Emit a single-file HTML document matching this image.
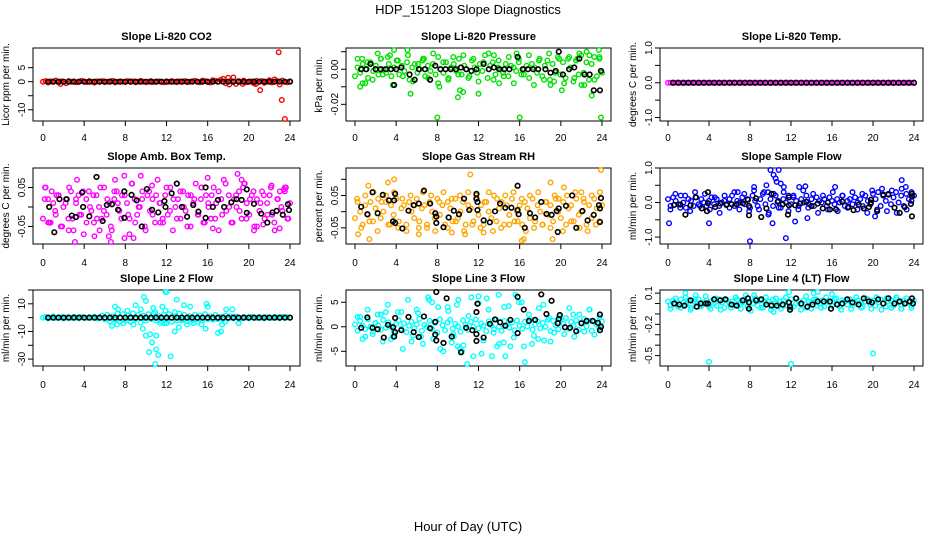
<!DOCTYPE html>
<html><head><meta charset="utf-8">
<style>
html,body{margin:0;padding:0;background:#fff;}
svg{display:block;font-family:"Liberation Sans",sans-serif;}
</style></head>
<body>
<svg id="chart" width="936" height="540" viewBox="0 0 936 540">
<text x="468" y="14" text-anchor="middle" font-size="13">HDP_151203  Slope Diagnostics</text>
<text x="468" y="531" text-anchor="middle" font-size="13">Hour of Day (UTC)</text>
</svg>
<script>
// ---------- data ----------
const xTicks = [0,4,8,12,16,20,24];
const panelTitles = ["Slope Li-820 CO2","Slope Li-820 Pressure","Slope Li-820 Temp.","Slope Amb. Box Temp.","Slope Gas Stream RH","Slope Sample Flow","Slope Line 2 Flow","Slope Line 3 Flow","Slope Line 4 (LT) Flow"];
const yLabels = ["Licor ppm per min.","kPa per min.","degrees C per min.","degrees C per min.","percent per min.","ml/min per min.","ml/min per min.","ml/min per min.","ml/min per min."];
const yDomains = [[-14,12],[-0.0295,0.0121],[-1.1,1.0],[-0.095,0.1],[-0.1,0.135],[-1.2,1.0],[-35,20],[-8,7.5],[-0.6,0.13]];
const yTickVals = [[-10,-5,0,5],[-0.02,-0.01,0,0.01],[-1,-0.5,0,0.5,1],[-0.05,0,0.05],[-0.05,0,0.05,0.1],[-1,-0.5,0,0.5,1],[-30,-20,-10,0,10,20],[-5,0,5],[-0.5,-0.4,-0.3,-0.2,-0.1,0,0.1]];
const yTickLabels = [["-10","","0","5"],["-0.02","","0.00",""],["-1.0","","0.0","","1.0"],["-0.05","","0.05"],["-0.05","","0.05",""],["-1.0","","0.0","","1.0"],["-30","","-10","","10",""],["-5","0","5"],["-0.5","","","-0.2","","","0.1"]];
const colors = ["#ff0000","#00e000","#ff00ff","#ff00ff","#ffa500","#0000ff","#00ffff","#00ffff","#00ffff"];

// colored series on a regular grid from 0 to 24 h
const co2A = [0,0.2,-0.3,0.1,0,0.4,-0.2,0.1,0,-0.5,0.2,0,0.1,-0.2,0,0.3,0,-0.1,0.2,0,-0.3,0.1,0,0.2,-0.1,0,0.1,0.3,-0.2,0,0.1,0,-0.1,0.2,0,0.1,-0.2,0,0.3,0,-0.1,0,0.2,-0.1,0,0.1,0,-0.2,0.1,0,0.2,0,-0.1,0.1,0,0.2,-0.1,0,0.1,0.3,0,-0.2,0.4,0.2,0,-0.3,0.5,0.3,0,0.6,1.0,-0.5,1.4,0.3,0,-0.8,0.2,0,0.4,-0.2,0,0.1,-0.6,0.3,0,0.2,-0.4,0,0.5,-0.3,0.8,0.2,-1.0,0.4,0,-0.2,0.1];
const co2B = [];
const presA = [-0.004,0.001,-0.002,0.003,0.0,-0.005,0.004,-0.001,0.002,-0.003,0.006,0.0,-0.002,0.003,-0.004,0.001,0.005,-0.003,0.002,-0.001,0.004,-0.006,0.001,0.003,-0.002,0.0,0.005,-0.004,0.002,-0.001,0.003,-0.003,0.007,0.0,-0.002,0.004,-0.005,0.001,0.003,-0.001,0.006,-0.003,0.002,0.0,-0.004,0.005,0.001,-0.002,0.003,-0.001,0.008,-0.005,0.002,0.004,-0.003,0.001,0.0,-0.002,0.003,-0.004,0.002,0.001,-0.001,0.004,-0.003,0.0,0.002,-0.005,0.003,0.001,-0.002,0.006,-0.004,0.002,0.005,-0.006,0.003,-0.002,0.007,-0.003,0.004,-0.005,0.006,0.001,-0.007,0.005,-0.003,0.008,-0.002,0.004,-0.006,0.003,0.007,-0.004,0.006,-0.002];
const presB = [0.006,-0.008,0.004,-0.006,0.009,-0.003,0.007,-0.009,0.005,-0.004,0.008,-0.007,0.003,0.006,-0.005,0.009,-0.008,0.004,-0.006,0.007,-0.003,0.008,-0.005,0.006,-0.007,0.004,0.009,-0.006,0.005,-0.004,0.007,-0.008,0.006,-0.003,0.008,-0.009,0.005,-0.006,0.009,-0.007,0.006,-0.008,0.007,-0.005,0.009,-0.009,0.008,-0.006,0.007];
const tempA = new Array(97).fill(0);
const tempB = [];
const ambA = [-0.03,0.05,0.02,-0.04,0.01,-0.02,0.03,-0.05,0.0,0.02,-0.03,0.04,-0.06,0.01,0.03,-0.02,-0.07,0.02,0.04,-0.01,-0.04,0.03,0.0,-0.03,0.05,-0.02,0.01,-0.06,0.02,0.04,-0.01,0.03,-0.08,0.01,-0.03,0.06,0.02,-0.02,0.0,0.04,-0.05,0.03,-0.01,0.02,-0.04,0.07,0.01,-0.03,0.03,-0.02,0.05,-0.06,0.0,0.02,-0.03,0.04,-0.01,0.03,-0.05,0.01,0.06,-0.02,0.02,-0.04,0.03,0.0,-0.03,0.05,0.01,-0.06,0.02,0.07,-0.01,0.03,-0.04,0.02,0.0,0.04,-0.03,0.06,0.01,-0.02,0.03,-0.05,0.02,-0.01,0.04,-0.03,0.01,0.03,-0.02,-0.06,0.02,0.04,-0.01,0.05,-0.03,0.01];
const ambB = [0.02,-0.04,0.04,-0.01,0.03,-0.05,0.01,0.05,-0.03,0.02,-0.02,0.04,-0.04,0.0,0.03,-0.03,0.05,-0.01,0.02,-0.05,0.04,0.01,-0.03,0.03,-0.02,0.06,-0.04,0.0,0.02,-0.06,0.04,-0.02,0.03,0.01,-0.04,0.05,-0.01,0.02,-0.03,0.04,0.0,-0.05,0.03,0.02,-0.02,0.05,-0.04,0.01,0.03,-0.03,0.04,-0.02,0.06,0.0,-0.04,0.03,-0.01,0.05,-0.03,0.02,0.04,-0.05,0.01,0.03,-0.02,0.05,-0.04,0.02,0.0,0.04,-0.03];
const rhA = [-0.02,0.03,0.0,-0.04,0.02,-0.01,0.03,-0.03,0.01,0.04,-0.02,0.0,0.03,-0.04,0.02,-0.01,0.04,-0.03,0.01,0.02,-0.04,0.03,0.0,-0.02,0.04,-0.03,0.01,0.02,-0.05,0.03,0.0,-0.02,0.04,-0.01,0.02,-0.04,0.03,0.01,-0.03,0.04,-0.02,0.0,0.03,-0.04,0.02,0.01,-0.03,0.04,-0.01,0.02,-0.04,0.03,0.0,-0.02,0.05,-0.03,0.01,0.03,-0.04,0.02,-0.01,0.04,-0.03,0.0,0.02,-0.04,0.03,0.01,-0.02,0.04,-0.03,0.02,0.0,-0.04,0.03,-0.01,0.02,-0.03,0.04,0.0,-0.02,0.03,-0.04,0.01,0.02,-0.03,0.04,-0.01,0.0,0.03,-0.04,0.02,-0.02,0.04,0.01,-0.03,0.02];
const rhB = [0.04,-0.05,0.05,-0.03,0.06,-0.06,0.03,0.05,-0.04,0.06,-0.05,0.04,-0.06,0.05,0.02,-0.05,0.06,-0.04,0.05,-0.06,0.03,0.06,-0.05,0.04,-0.03,0.05,-0.06,0.06,-0.04,0.05,-0.05,0.03,0.06,-0.06,0.04,-0.05,0.05,-0.04,0.06,-0.03,0.04,-0.06,0.05,-0.05,0.06,-0.04,0.03,-0.05,0.05,0.04,-0.06,0.05,-0.03,0.06,-0.05,0.04,-0.06,0.05,-0.04,0.06];
const flowA = [0.1,-0.1,0.15,0.05,-0.05,0.2,0.0,-0.15,0.1,0.05,-0.1,0.15,-0.05,0.1,0.0,-0.1,0.05,0.15,-0.05,0.1,-0.1,0.0,0.05,-0.05,0.1,0.2,-0.1,0.05,0.0,0.15,-0.05,0.1,-0.15,0.2,0.05,-0.1,0.1,0.25,-0.05,0.3,0.1,-0.1,0.2,0.05,-0.15,0.1,0.0,0.2,-0.05,0.15,0.05,-0.1,0.1,0.0,0.2,-0.05,0.1,-0.1,0.15,0.05,0.0,0.1,-0.1,0.15,0.05,-0.05,0.1,0.0,0.2,-0.1,0.05,0.1,-0.05,0.15,0.0,0.1,-0.1,0.2,0.05,-0.05,0.25,0.1,0.3,-0.1,0.2,0.05,0.25,-0.05,0.15,0.3,0.0,0.2,-0.1,0.25,0.1,0.05,0.2];
const flowB = [-0.2,0.25,-0.15,0.2,-0.25,0.3,-0.1,0.25,-0.2,0.15,-0.3,0.2,-0.15,0.3,-0.2,0.25,-0.25,0.35,-0.2,0.3,-0.3,0.25,-0.15,0.3,-0.25,0.2,-0.2,0.35,-0.15,0.25,-0.3,0.2,-0.2,0.3,-0.25,0.2,-0.15,0.3,-0.2,0.25,-0.3,0.35,-0.2,0.4,-0.25,0.35,-0.3,0.4,-0.2,0.3];
const l2A = [0,0.5,-0.5,0,0.8,-0.3,0,0.4,-0.6,0,0.3,-0.2,0.6,0,-0.4,0.5,0,-0.3,0.2,0,0.6,-0.5,0,1.5,-1.2,2,-2.5,1,-1.5,3,-3,2.5,-2,1.5,-2.5,3,-1,2,-3.5,1.5,-2,2.5,-1,3,-2,1,-2.5,2,-1.5,2.5,-3,1,-2,3,-1.5,2,-2.5,1,-2,2,-1,1.5,-2,2.5,-1,1,-1.5,2,-1,0.5,-1,1.5,-0.5,1,-0.5,0.8,0,-0.6,0.5,0,-0.4,0.6,0,-0.3,0.5,0,-0.5,0.4,0,-0.3,0.6,0,-0.4,0.5,0,0.3,0];
const l2B = [];
const l3A = [0.5,-0.8,1.2,0.2,-0.5,1.5,0.0,-1.0,0.8,0.3,-0.6,1.4,-0.2,0.9,0.1,-0.9,0.6,1.3,-0.4,0.7,-1.1,0.2,1.0,-0.3,0.5,1.6,-0.8,0.4,0.0,1.2,-0.5,0.8,-1.2,1.5,0.3,-0.7,0.9,1.4,-0.4,0.6,0.1,-1.0,1.3,0.4,-0.6,1.0,0.0,1.5,-0.3,0.7,0.2,-0.9,1.1,0.3,-0.5,1.4,0.0,-0.8,1.2,0.4,-0.2,0.9,-0.7,1.3,0.2,-0.4,1.0,0.1,1.6,-0.6,0.5,1.1,-0.3,0.8,0.0,1.4,-0.9,1.2,0.3,-0.5,1.5,0.6,1.8,-0.4,1.0,0.2,1.3,-0.6,0.9,1.6,0.1,1.2,-0.8,1.0,0.4,-0.3,1.1];
const l3B = [2.0,-2.5,3.5,-1.5,2.5,-3.0,4.5,-2.0,3.0,-4.5,5.5,-1.8,2.8,-3.5,6.0,-2.5,4.0,-5.0,3.2,-1.5,5.5,-3.8,2.2,-6.0,4.8,-2.8,3.5,-1.2,6.5,-3.2,4.2,-2.2,5.0,-4.0,2.5,-1.8,3.8,-2.8,1.8,-1.2,2.2,-1.5,3.8,-2.0,2.5,-1.0,3.5,-1.6,2.0];
const l4A = [0.02,-0.02,0.03,0.0,-0.03,0.04,0.01,-0.01,0.03,-0.04,0.02,0.0,0.04,-0.02,0.01,0.03,-0.03,0.02,0.0,-0.02,0.04,0.01,-0.04,0.03,0.0,0.02,-0.02,0.04,-0.01,0.01,0.03,-0.03,0.02,0.0,0.04,-0.02,0.03,-0.04,0.01,0.02,-0.01,0.04,0.0,-0.03,0.02,0.03,-0.02,0.01,0.04,-0.03,0.0,0.02,-0.01,0.03,-0.04,0.02,0.01,0.04,-0.02,0.0,0.03,-0.03,0.02,0.01,-0.02,0.04,0.0,-0.03,0.03,0.02,-0.01,0.04,-0.02,0.01,0.03,0.0,-0.03,0.02,0.04,-0.01,0.03,-0.02,0.01,0.04,0.0,-0.03,0.02,0.03,-0.02,0.04,0.01,-0.01,0.03,0.0,0.02,-0.02,0.03];
const l4B = [-0.05,0.05,-0.04,0.06,-0.06,0.04,-0.03,0.07,-0.05,0.05,-0.06,0.04,-0.04,0.06,-0.05,0.08,-0.07,0.05,-0.04,0.06,-0.06,0.05,-0.05,0.06,-0.04,0.05,-0.06,0.07,-0.05,0.04,-0.04,0.06,-0.05,0.05,-0.06,0.04,-0.05,0.06,-0.04,0.05,-0.05,0.06,-0.06,0.05,-0.04,0.06,-0.05,0.05,-0.04];

// colored outliers (hour, value)
const co2ExH = [21.1,22.9,23.2,23.5,18.1,18.5,19.4,20.7,1.7];
const co2ExV = [-3,10.5,-6.5,-13.5,-1,1.5,-0.8,-0.8,-0.8];
const presExH = [0.7,3.8,5.1,8.0,16.0,23.9,23.7,10.0,12.0,5.4,0.5,1.0,15.7,20.1,3.4,2.5,10.2,10.5,23.0,19.0,22.0,14.0,8.2,6.7,13.5,22.5,21.6];
const presExV = [0.006,0.011,0.012,-0.0275,-0.0275,-0.0275,0.012,-0.016,-0.014,-0.014,-0.010,-0.008,0.009,-0.012,0.008,0.006,-0.012,-0.013,-0.015,-0.009,-0.009,-0.008,-0.010,0.006,0.008,0.010,0.006];
const tempExH = [];
const tempExV = [];
const ambExH = [0.2,0.6,1.3,2.5,3.1,3.3,5.0,5.5,6.4,6.6,7.0,7.9,8.4,8.8,9.5,10.6,11.4,13.0,15.4,16.0,16.5,18.9,19.3,19.6,20.5,21.4,22.2,23.0,23.6,23.4];
const ambExV = [0.05,-0.04,0.03,-0.06,-0.09,0.07,-0.075,-0.06,-0.075,-0.09,0.07,0.08,-0.07,-0.08,0.08,0.055,-0.04,0.06,0.05,0.075,-0.055,0.085,0.07,0.06,-0.06,-0.045,0.055,-0.055,0.05,0.045];
const rhExH = [0.3,1.4,1.3,3.2,3.8,11.2,16.2,19.0,19.2,23.9,20.3,6.2,9.4,10.7,15.8,22.0,16.4,12.5];
const rhExV = [-0.07,-0.085,0.08,0.09,0.1,0.115,-0.09,0.09,-0.085,0.135,0.075,-0.07,-0.065,-0.07,0.08,0.06,-0.085,-0.065];
const flowExH = [0.1,4.0,8.0,9.6,10.0,10.3,10.5,10.8,10.6,11.5,10.2,12.4,13.6,22.8,23.2,8.4,11.3,12.8,13.4,16.3,20.2,9.8,11.0,6.8];
const flowExV = [-0.6,-0.6,-1.12,0.5,0.95,0.8,0.7,1.0,0.6,-1.03,-0.6,-0.55,-0.45,0.65,0.45,0.45,0.45,0.45,0.47,0.45,-0.4,-0.35,0.55,0.3];
const l2ExH = [6.7,7.2,7.3,7.8,8.8,9.0,9.5,9.7,9.8,10.0,10.0,10.4,10.3,10.7,10.6,11.0,11.2,11.0,11.4,11.6,11.9,11.8,12.0,11.9,12.0,12.4,12.8,13.0,13.2,13.5,13.7,14.0,14.3,14.6,15.0,15.4,15.8,15.9,16.0,17.0,17.3,17.4,17.7,17.8,18.4,19.0,7.0,8.2,8.5,12.8,10.9,10.9];
const l2ExV = [-6,-5,6,-4,-5,9,6,-8,15,12,-13,-12,-25,7,-18,-23,-27,-13,-4,8,5,-4,-4,22,21,-28,-10,13,-7,-2,9,-5,8,-4,-3,-5,-8,10,8,-11,-10,-5,-3,6,6,-4,8,5,-3,4,4,-35];
const l3ExH = [0.5,1.0,2.5,3.5,4.5,5.5,6.0,6.4,7.2,7.5,8.3,9.0,9.4,9.6,10.2,10.4,10.9,11.3,12.0,12.3,13.3,14.0,14.6,15.1,15.6,16.5,17.2,17.8,19.0,9.9,10.0,12.8,13.8,14.5,16.2,3.0,21.2,22.8,18.3];
const l3ExV = [2,-2,2.5,-2.5,3,-3,3.5,-2,5.5,5,-4.5,4,-3.2,-2,-4.5,-5,-8,6,6.2,-5.5,-6,-3.5,-6,-4,6.5,-7.2,-3.5,-2.5,-3,4.5,-4,5.8,-4,4,5,3,2.5,3.5,4.5];
const l4ExH = [4.0,12.0,20.0,11.8,14.6,14.2,1.7,10.3,2.7,8.4,16.0];
const l4ExV = [-0.56,-0.58,-0.48,0.11,0.12,0.1,0.1,-0.08,0.08,0.08,0.09];

// black series (hour, value)
const blkGridZero = new Array(48).fill(0);
const presBlkH = [0.6,1.1,1.5,2.0,2.5,3.0,3.5,3.8,4.0,4.5,5.3,5.8,6.2,6.8,7.3,7.8,8.3,8.8,9.3,9.8,10.3,10.8,11.3,11.8,12.5,13.0,13.5,14.0,14.5,15.0,15.8,16.3,16.8,17.3,17.8,18.5,19.0,19.5,19.8,20.2,20.8,21.3,21.8,22.3,22.8,23.2,23.8,23.9];
const presBlkV = [0,0,0.003,0,0,0,0,-0.009,0,0.001,-0.003,-0.006,0,0,-0.006,0.002,0,0,0,0,0.001,0,-0.001,0,0.003,0,0.001,0,0,0,0.007,0,0,0,0,0,-0.002,-0.001,0.010,-0.003,0,0.001,0.006,-0.003,-0.003,-0.012,-0.012,-0.001];
const ambBlkH = [0.6,1.1,1.6,2.3,2.8,3.2,3.8,3.9,4.5,5.2,5.8,6.2,6.7,7.3,7.9,7.9,8.6,9.1,9.6,10.1,10.6,11.2,11.9,11.8,12.5,13.0,13.5,14.0,14.6,15.1,15.8,15.8,16.5,17.0,17.6,18.3,18.8,19.3,19.8,19.8,20.5,21.2,21.8,22.3,22.7,23.3,23.8,23.9];
const ambBlkV = [0.0,-0.065,0.02,0.02,-0.022,-0.026,0.037,0.0,-0.024,0.077,-0.036,0.005,0.007,-0.007,0.04,-0.028,0.031,0.017,-0.05,0.046,-0.007,-0.014,0.0,0.015,0.035,0.06,0.0,-0.025,0.005,-0.012,0.05,-0.028,0.0,0.018,0.0,0.012,0.02,0.018,0.045,-0.015,0.008,-0.017,-0.04,-0.014,-0.01,-0.02,0.007,-0.008];
const rhBlkH = [0.6,1.2,1.7,2.2,2.7,3.3,3.8,3.9,3.7,3.9,4.6,5.2,5.7,6.2,6.7,7.3,7.8,7.9,7.9,8.6,9.1,9.6,10.1,10.6,11.1,11.8,11.8,11.9,11.9,12.5,13.1,13.6,14.1,14.6,15.2,15.8,15.8,15.9,16.5,17.0,17.5,18.1,18.6,19.1,19.6,19.7,19.8,20.5,21.1,21.5,22.1,22.6,23.2,23.7,23.8,23.9,23.8];
const rhBlkV = [0.015,-0.008,0.06,-0.005,0.052,0.035,0.035,0.055,-0.03,-0.035,-0.052,0.003,0.02,0.025,0.065,0.025,-0.005,-0.015,-0.035,-0.048,-0.018,0.003,-0.008,0.04,0.005,0.055,0.04,0.005,0.03,-0.027,-0.033,0.001,0.025,0.012,0.012,0.08,0.005,-0.008,-0.05,-0.005,-0.018,0.03,-0.007,-0.01,0.002,-0.063,0.01,0.018,0.05,-0.05,0.002,-0.027,-0.01,0.02,0.01,0.042,-0.032];
const flowBlkH = [0.6,1.2,1.7,2.2,2.7,3.3,3.8,3.9,3.9,4.6,5.1,5.7,6.2,6.7,7.3,7.8,7.9,7.9,8.6,9.1,9.6,10.1,10.7,11.2,11.7,11.8,11.8,12.4,12.9,13.5,14.0,14.6,15.1,15.6,15.8,16.4,17.0,17.6,18.1,18.6,19.1,19.6,19.8,19.8,20.4,21.0,21.5,22.1,22.6,23.1,23.7,23.8,23.8,23.8];
const flowBlkV = [-0.07,-0.06,-0.35,-0.08,0.15,-0.17,-0.25,0.3,-0.02,-0.13,-0.03,-0.07,-0.05,-0.05,-0.02,0.08,-0.37,-0.1,0.12,-0.42,-0.17,0.25,0.02,-0.05,-0.35,0.15,-0.08,-0.08,-0.03,0.02,-0.1,-0.03,-0.17,0.0,-0.2,-0.2,0.03,-0.13,-0.22,-0.06,-0.17,-0.13,0.08,0.0,-0.25,0.23,0.23,-0.15,-0.3,-0.13,-0.04,0.25,0.18,-0.4];
const l3BlkH = [0.6,1.2,1.7,2.2,2.8,3.2,3.7,3.8,3.9,3.9,4.5,5.2,5.7,6.2,6.7,7.3,7.8,7.9,7.8,7.9,8.6,8.9,9.4,10.3,10.8,11.4,11.8,11.9,11.8,11.8,12.5,13.1,13.6,14.1,14.6,15.1,15.8,15.8,16.4,16.9,17.5,18.1,18.6,19.1,19.7,19.8,19.9,20.4,20.9,21.5,22.0,22.5,23.1,23.6,23.8,23.8,23.9];
const l3BlkV = [-0.2,1.9,-0.2,-0.5,-2.2,0.4,-0.1,-2.0,-1.1,1.8,-0.7,2.0,-1.1,-2.1,2.1,-0.3,1.0,7.1,-1.6,-2.8,-3.3,5.8,-2.0,-5.2,-0.2,-0.7,3.0,4.7,-1.5,-2.9,-2.2,0.6,1.5,0.9,0.2,1.4,-1.3,6.1,3.5,1.2,1.4,6.6,2.6,5.3,0.7,1.6,2.4,-0.1,-0.2,-0.9,0.7,1.2,1.2,0.8,2.5,-0.7,0.0];
const l4BlkH = [0.6,1.1,1.6,2.2,2.8,3.2,3.7,3.9,4.5,5.1,5.6,6.2,6.7,7.3,7.8,7.9,7.9,8.6,9.1,9.6,10.1,10.6,11.2,11.8,11.9,11.9,12.5,13.0,13.6,14.1,14.6,15.2,15.8,15.9,16.5,17.0,17.5,18.0,18.6,19.1,19.6,19.9,20.5,21.0,21.5,22.1,22.6,23.1,23.6,23.8,23.9];
const l4BlkV = [0.0,-0.01,-0.02,0.03,-0.03,0.0,0.0,0.0,0.04,0.03,0.04,-0.01,-0.02,0.03,0.05,0.01,-0.05,0.03,0.04,-0.01,-0.02,-0.02,-0.01,0.01,-0.03,-0.06,0.05,0.0,-0.03,-0.01,0.02,0.02,0.02,-0.05,-0.01,0.0,0.04,0.01,-0.01,0.05,0.02,0.01,0.04,0.0,0.05,0.0,0.02,0.0,0.02,0.05,0.0];

const colorGridA = [co2A,presA,tempA,ambA,rhA,flowA,l2A,l3A,l4A];
const colorGridB = [co2B,presB,tempB,ambB,rhB,flowB,l2B,l3B,l4B];
const extraH = [co2ExH,presExH,tempExH,ambExH,rhExH,flowExH,l2ExH,l3ExH,l4ExH];
const extraV = [co2ExV,presExV,tempExV,ambExV,rhExV,flowExV,l2ExV,l3ExV,l4ExV];
const blackH = [null,presBlkH,null,ambBlkH,rhBlkH,flowBlkH,null,l3BlkH,l4BlkH];
const blackV = [blkGridZero,presBlkV,blkGridZero,ambBlkV,rhBlkV,flowBlkV,blkGridZero,l3BlkV,l4BlkV];

// ---------- layout ----------
const colBox = [[33,300,43,290],[346,611,355,602],[660,923,668,914]];
const rowBox = [[48,121,137],[168,244,262],[290,366,384]];
const ylabX = [9,322,636];

const NS = "http://www.w3.org/2000/svg";
const svg = document.getElementById("chart");
function mk(tag, attrs, parent){
  const e = document.createElementNS(NS, tag);
  for (const k in attrs) e.setAttribute(k, attrs[k]);
  (parent||svg).appendChild(e);
  return e;
}

for (let p = 0; p < 9; p++) {
  const c = colBox[p % 3], r = rowBox[Math.floor(p / 3)];
  const [L, R, x0, x24] = c, [T, B, tl] = r;
  const [ymin, ymax] = yDomains[p];
  const xs = h => x0 + (x24 - x0) * h / 24;
  const ys = v => B - (B - T) * (v - ymin) / (ymax - ymin);
  const g = mk("g", {});
  
  

  const title = mk("text", {x: (L + R) / 2, y: T - 8, "text-anchor": "middle", "font-size": 11, "font-weight": "bold"}, g);
  title.textContent = panelTitles[p];
  
  

  const box = mk("rect", {x: L, y: T, width: R - L, height: B - T, fill: "none", stroke: "#000", "stroke-width": 1}, g);
  
  

  // x axis
  const xa = mk("g", {}, g);
  
  
  mk("line", {x1: xs(0), x2: xs(24), y1: B, y2: B, stroke: "#000"}, xa);
  xTicks.forEach(t => {
    mk("line", {x1: xs(t), x2: xs(t), y1: B, y2: B + 5, stroke: "#000"}, xa);
    const tx = mk("text", {x: xs(t), y: tl + 4, "text-anchor": "middle", "font-size": 10}, xa);
    tx.textContent = t;
    
    
  });

  // y axis
  const ya = mk("g", {}, g);
  
  
  const tv = yTickVals[p];
  mk("line", {x1: L, x2: L, y1: ys(tv[0]), y2: ys(tv[tv.length - 1]), stroke: "#000"}, ya);
  tv.forEach((t, i) => {
    mk("line", {x1: L - 5, x2: L, y1: ys(t), y2: ys(t), stroke: "#000"}, ya);
    const lab = yTickLabels[p][i];
    if (lab) {
      const tx = mk("text", {x: 0, y: 0, "text-anchor": "middle", "font-size": 10, transform: `translate(${L - 8},${ys(t)}) rotate(-90)`}, ya);
      tx.textContent = lab;
      
      
    }
  });
  const yl = mk("text", {x: 0, y: 0, "text-anchor": "middle", "font-size": 10, transform: `translate(${ylabX[p % 3]},${(T + B) / 2}) rotate(-90)`}, g);
  yl.textContent = yLabels[p];
  
  

  // points
  const col = colors[p];
  const ptsG = mk("g", {fill: "none", "stroke-width": 1.4}, g);
  
  
  const dot = (h, v, stroke, parent) => {
    const cy = Math.max(T + 2, Math.min(B - 2, ys(v)));
    const e = mk("circle", {cx: xs(h), cy: cy, r: 2.3, stroke: stroke}, parent);
    
    
  };
  [colorGridA[p], colorGridB[p]].forEach((arr, k) => {
    const n = arr.length;
    arr.forEach((v, i) => {
      const h = n > 1 ? (i + (k ? 0.5 : 0)) * 24 / (n - (k ? 0 : 1)) : 0;
      dot(h, v, col, ptsG);
    });
  });
  extraH[p].forEach((h, i) => dot(h, extraV[p][i], col, ptsG));

  const bG = mk("g", {fill: "none", "stroke-width": 1.6}, g);
  
  
  const bv = blackV[p], bh = blackH[p];
  bv.forEach((v, i) => {
    const h = bh ? bh[i] : 0.5 + i * 23.5 / (bv.length - 1);
    dot(h, v, "#000", bG);
  });
}
</script>
</body></html>
